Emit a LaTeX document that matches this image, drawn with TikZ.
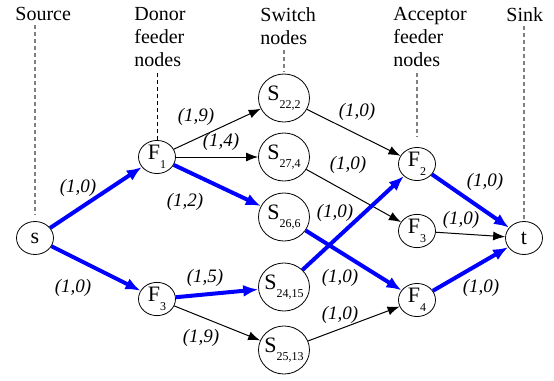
\documentclass[tikz,border=0pt]{standalone}
\usepackage{fontspec}
\setmainfont{Liberation Serif}
\usetikzlibrary{shapes.geometric,arrows.meta}

% node caption with a lowered index, kept out of the node size
\newcommand{\nlbl}[3]{\makebox[0pt]{#1\raisebox{-#3}{\fontsize{6}{6}\selectfont #2}}}

\begin{document}
\begin{tikzpicture}[x=0.5pt, y=-0.5pt,
    vertex/.style={ellipse, draw, inner sep=0pt, minimum width=18.5pt, minimum height=16.5pt, font=\fontsize{11}{11}\selectfont},
    switch/.style={vertex, minimum width=25.5pt, minimum height=24pt},
    header/.style={anchor=north west, align=left, inner sep=0pt, font=\fontsize{10}{11.5}\selectfont},
    weight/.style={inner sep=0pt, font=\fontsize{9.5}{9.5}\selectfont\itshape},
    plain/.style={draw, line width=0.5pt, -{Latex[length=6pt,width=4.5pt]}},
    flow/.style={draw=blue, line width=2pt, -{Latex[length=7.5pt,width=6pt]}},
    guide/.style={draw=gray, line width=0.6pt, dash pattern=on 2pt off 1.5pt}
]
\useasboundingbox (0,0) rectangle (554,381);

% Column headers
\node[header] (srchdr) at (15,7) {Source};
\node[header] (donorhdr) at (134,7) {Donor\\feeder\\nodes};
\node[header] (switchhdr) at (260,7) {Switch\\nodes};
\node[header] (acchdr) at (393,7) {Acceptor\\feeder\\nodes};
\node[header] (sinkhdr) at (506,7) {Sink};

% Nodes
\node[vertex] (s) at (35,238) {s};
\node[vertex] (F1) at (157,157) {\nlbl{F}{1}{4.5pt}};
\node[vertex] (F3) at (157,299) {\nlbl{F}{3}{4.5pt}};

\node[switch] (S22) at (284,98) {\nlbl{S}{22,2}{4pt}};
\node[switch] (S27) at (284,157) {\nlbl{S}{27,4}{4pt}};
\node[switch] (S26) at (284,217) {\nlbl{S}{26,6}{4pt}};
\node[switch] (S24) at (284,287) {\nlbl{S}{24,15}{4pt}};
\node[switch] (S25) at (284,350) {\nlbl{S}{25,13}{4pt}};

\node[vertex] (F2) at (417,164) {\nlbl{F}{2}{4.5pt}};
\node[vertex] (F3a) at (417,231) {\nlbl{F}{3}{4.5pt}};
\node[vertex] (F4) at (417,300) {\nlbl{F}{4}{4.5pt}};
\node[vertex] (t) at (524,238) {t};

% Guide lines
\draw[guide, shorten <=2pt, shorten >=3pt] (srchdr.south -| s) -- (s.north);
\draw[guide, draw=black, line width=0.45pt, shorten <=3pt] (donorhdr.south -| F1) -- (F1.north);
\draw[guide, shorten <=2.5pt, shorten >=1pt] (switchhdr.south -| S22) -- (S22.north);
\draw[guide, shorten <=3pt, shorten >=5pt] (acchdr.south -| F2) -- (F2.north);
\draw[guide, shorten <=2pt, shorten >=1pt] (sinkhdr.south -| t) -- (t.north);

% Arcs with (capacity,cost)
\foreach \from/\to/\kind/\lx/\ly/\c in {
    s/F1/flow/78/188/0, s/F3/flow/73/288/0,
    F1/S22/plain/196/117/9, F1/S27/plain/221/142/4, F1/S26/flow/185/202/2,
    F3/S24/flow/205/278/5, F3/S25/plain/201/338/9,
    S22/F2/plain/357/112/0, S27/F3a/plain/348/165/0, S24/F2/flow/335/213/0,
    S26/F4/flow/340/278/0, S25/F4/plain/340/315/0,
    F2/t/flow/485/182/0, F3a/t/plain/461/220/0, F4/t/flow/481/288/0}
{
    \draw[\kind] (\from) -- (\to);
    \node[weight] (w-\from-\to) at (\lx,\ly) {(1,\c)};
}

\end{tikzpicture}
\end{document}
